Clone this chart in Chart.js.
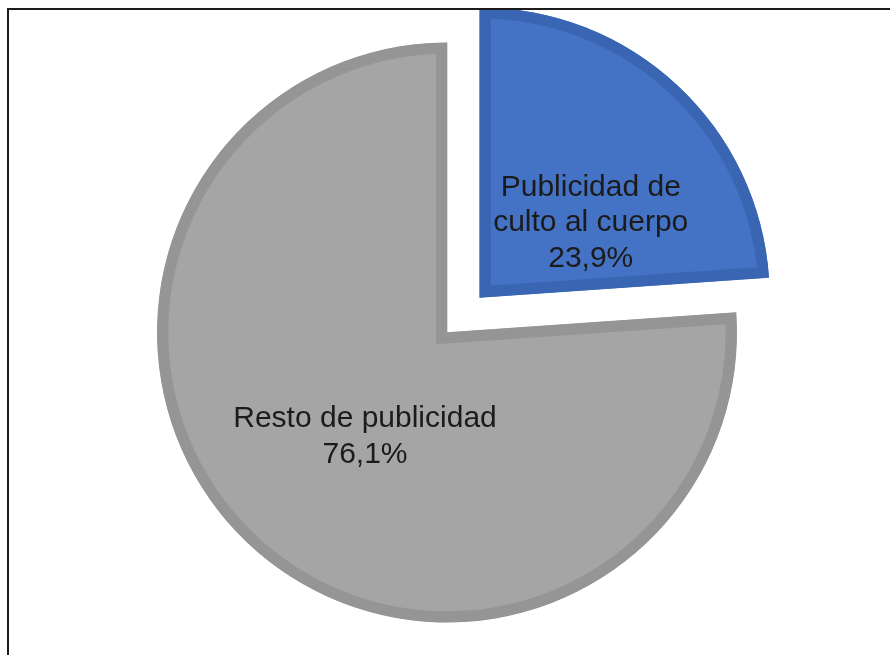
<!DOCTYPE html>
<html lang="es">
<head>
<meta charset="utf-8">
<title>Publicidad de culto al cuerpo</title>
<script src="https://cdn.jsdelivr.net/npm/chart.js@4/dist/chart.umd.min.js"></script>
<style>
  html, body { margin: 0; padding: 0; background: #ffffff; }
  body { width: 890px; height: 655px; position: relative; overflow: hidden; }
  #frameTop { position: absolute; left: 7px; top: 8px; width: 883px; height: 2px; background: #1c1c1c; }
  #frameLeft { position: absolute; left: 7px; top: 8px; width: 2px; height: 647px; background: #1c1c1c; }
  #plot { position: absolute; left: 9px; top: 10px; width: 881px; height: 645px; overflow: hidden; }
  #plot canvas { display: block; }
</style>
</head>
<body>
<div id="plot"><canvas id="chart" width="881" height="645"></canvas></div>
<div id="frameTop"></div>
<div id="frameLeft"></div>
<script>
// Slice names (as printed, split into lines) and their shares in percent
const categories = ['Publicidad de culto al cuerpo', 'Resto de publicidad'];
const labelLines = [['Publicidad de', 'culto al cuerpo'], ['Resto de publicidad']];
const shares = [23.9, 76.1];

const fillColors = ['#4472C4', '#A5A5A5'];
const edgeColors = ['#3A65B3', '#959595'];

// Pixel distance the first slice is pulled out of the pie
const PULL = 48;

// Where each data label sits, relative to its slice apex
const labelPlacement = [
  { dx: 111, dy: -101.5 },
  { dx: -82, dy: 94.5 }
];
const LINE_HEIGHT = 35.5;

function pct(v) {
  return v.toFixed(1).replace('.', ',') + '%';
}

const sliceLabels = {
  id: 'sliceLabels',
  afterDatasetsDraw(chart) {
    const ctx = chart.ctx;
    const meta = chart.getDatasetMeta(0);
    const values = chart.data.datasets[0].data;
    ctx.save();
    ctx.font = '30px "Liberation Sans", Arial, sans-serif';
    ctx.fillStyle = '#1b1b1b';
    ctx.textAlign = 'center';
    ctx.textBaseline = 'alphabetic';
    meta.data.forEach((arc, i) => {
      const mid = (arc.startAngle + arc.endAngle) / 2;
      // arcs are shifted by a quarter of their offset option when drawn
      const shift = (arc.options.offset || 0) / 4;
      const ax = arc.x + Math.cos(mid) * shift;
      const ay = arc.y + Math.sin(mid) * shift;
      const lines = labelLines[i].concat([pct(values[i])]);
      const p = labelPlacement[i];
      lines.forEach((t, k) => {
        ctx.fillText(t, ax + p.dx, ay + p.dy + k * LINE_HEIGHT);
      });
    });
    ctx.restore();
  }
};

new Chart(document.getElementById('chart'), {
  type: 'pie',
  data: {
    labels: categories,
    datasets: [{
      data: shares,
      backgroundColor: fillColors,
      borderColor: edgeColors,
      borderWidth: 11,
      borderAlign: 'inner',
      borderJoinStyle: 'miter',
      offset: [PULL * 4, 0]
    }]
  },
  options: {
    responsive: false,
    animation: false,
    radius: 290,
    layout: { padding: { left: 0, right: 5, top: 0, bottom: 0 } },
    plugins: {
      legend: { display: false },
      tooltip: { enabled: false }
    }
  },
  plugins: [sliceLabels]
});
</script>
</body>
</html>
